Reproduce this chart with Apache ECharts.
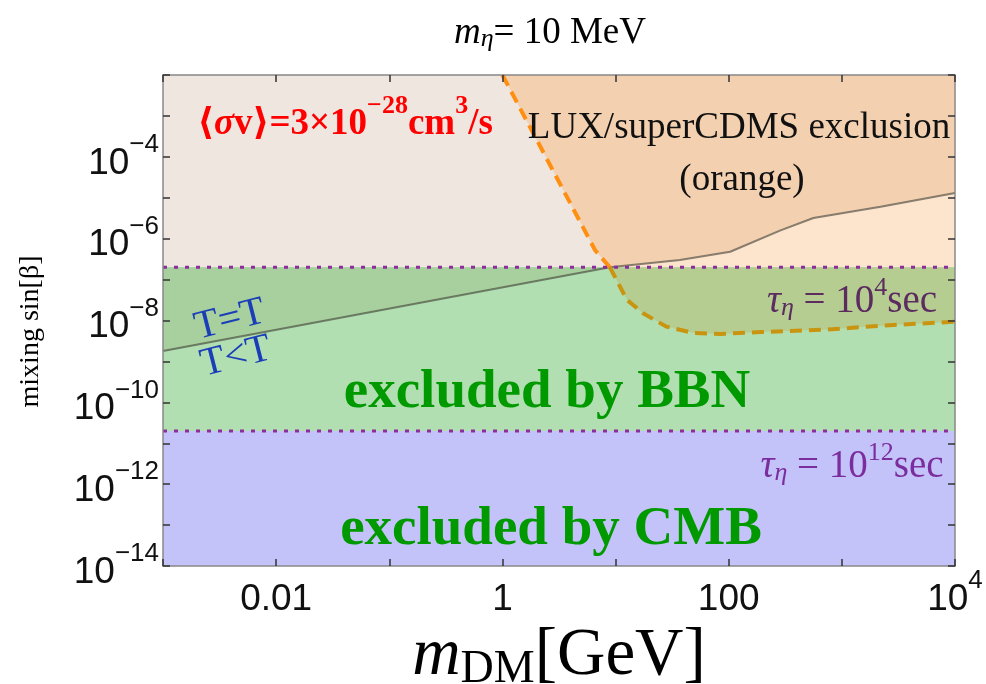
<!DOCTYPE html>
<html>
<head>
<meta charset="utf-8">
<script src="https://cdn.jsdelivr.net/npm/echarts@6/dist/echarts.min.js"></script>
<style>
html, body { margin: 0; padding: 0; background: #fff; }
#main { width: 986px; height: 684px; }
</style>
</head>
<body>
<div id="main"></div>
<script>
// axis limits (log axes)
var xRange = [1e-3, 1e4];
var yRange = [1e-14, 1e-2];

// lifetime limits of eta: tau = 1e4 sec (BBN) and tau = 1e12 sec (CMB)
var bbnLimit = 2e-7;
var cmbLimit = 2e-11;

// T = T boundary (grey line)
var thermalLow = [[1e-3, 1.8e-9], [8.9, 2e-7]];
var thermalHigh = [[8.9, 2e-7], [37, 3.0e-7], [103, 4.8e-7], [287, 1.6e-6], [560, 3.2e-6], [2200, 6.0e-6], [1e4, 1.3e-5]];

// LUX/superCDMS exclusion (dashed)
var luxUpper = [[1, 1e-2], [6.6, 5.2e-7], [8.9, 2e-7]];
var luxLower = [[8.9, 2e-7], [12.6, 3.2e-8], [17.5, 1.5e-8], [28, 7.1e-9], [48, 5.0e-9], [84, 4.7e-9], [190, 5.2e-9], [740, 6.0e-9], [2850, 7.8e-9], [1e4, 9.3e-9]];

// tick labels
var xTickExp = [-2, 0, 2, 4];
var xTickText = ['{b|0.01}', '{b|1}', '{b|100}', '{b|10}{s|4}'];
var yTickExp = [-4, -6, -8, -10, -12, -14];
var yTickText = ['{b|10}{s|−4}', '{b|10}{s|−6}', '{b|10}{s|−8}', '{b|10}{s|−10}', '{b|10}{s|−12}', '{b|10}{s|−14}'];

var xMin = xRange[0], xMax = xRange[1], yMin = yRange[0], yMax = yRange[1];

var regionColors = {
	beige: '#EFE6E0',
	orange: '#F3D1B0',
	peach: '#FDE4CD',
	green: '#B2DFB2',
	darkGreen: '#A8D09E',
	olive: '#B5CD90',
	blue: '#C3C3FA'
};

// filled areas, built from the curves above
var regions = [
	{ pts: [[xMin, bbnLimit], [xMax, bbnLimit], [xMax, yMax], [xMin, yMax]], color: regionColors.beige },
	{ pts: [[luxUpper[0][0], yMax], [xMax, yMax]].concat(thermalHigh.slice().reverse(), luxUpper.slice(1, -1).reverse()), color: regionColors.orange },
	{ pts: thermalHigh.concat([[xMax, bbnLimit]]), color: regionColors.peach },
	{ pts: [[xMin, cmbLimit], [xMax, cmbLimit], [xMax, bbnLimit], [xMin, bbnLimit]], color: regionColors.green },
	{ pts: thermalLow.concat([[xMin, bbnLimit]]), color: regionColors.darkGreen },
	{ pts: luxLower.concat([[xMax, bbnLimit]]), color: regionColors.olive },
	{ pts: [[xMin, yMin], [xMax, yMin], [xMax, cmbLimit], [xMin, cmbLimit]], color: regionColors.blue }
];

var SERIF = '"Liberation Serif", "DejaVu Serif", serif';
var SANS = '"Liberation Sans", Arial, sans-serif';

function tickLabel(exps, texts) {
	return function (v) {
		var e = Math.round(Math.log10(v));
		var i = exps.indexOf(e);
		return i < 0 ? '' : texts[i];
	};
}

var tickRich = {
	b: { fontSize: 37, fontFamily: SANS, color: '#111', lineHeight: 50, verticalAlign: 'bottom' },
	s: { fontSize: 26, fontFamily: SANS, color: '#111', verticalAlign: 'top' }
};

function xAx(pos) {
	return {
		type: 'log', logBase: 10, min: xMin, max: xMax, interval: 1, position: pos, z: 10,
		axisLine: { show: true, lineStyle: { color: '#888', width: 1.5 } },
		axisTick: { show: true, inside: true, length: 7, lineStyle: { color: '#333', width: 1.5 } },
		minorTick: { show: false },
		splitLine: { show: false },
		axisLabel: pos === 'bottom'
			? { formatter: tickLabel(xTickExp, xTickText), rich: tickRich, margin: 2, showMinLabel: true, showMaxLabel: true, hideOverlap: false }
			: { show: false }
	};
}

function yAx(pos) {
	return {
		type: 'log', logBase: 10, min: yMin, max: yMax, interval: 1, position: pos, z: 10,
		axisLine: { show: true, lineStyle: { color: '#888', width: 1.5 } },
		axisTick: { show: true, inside: true, length: 7, lineStyle: { color: '#333', width: 1.5 } },
		minorTick: { show: false },
		splitLine: { show: false },
		axisLabel: pos === 'left'
			? { formatter: tickLabel(yTickExp, yTickText), rich: tickRich, margin: 4, showMinLabel: true, hideOverlap: false }
			: { show: false }
	};
}

var xAxes = [xAx('bottom'), xAx('top')];
xAxes[0].name = '{m|m}{sub|DM}{r|[GeV]}';
xAxes[0].nameLocation = 'middle';
xAxes[0].nameGap = 46;
xAxes[0].nameTextStyle = {
	rich: {
		m: { fontSize: 67, fontStyle: 'italic', fontFamily: SERIF, color: '#000', lineHeight: 70, verticalAlign: 'top' },
		sub: { fontSize: 46, fontFamily: SERIF, color: '#000', verticalAlign: 'bottom' },
		r: { fontSize: 67, fontFamily: SERIF, color: '#000', lineHeight: 70, verticalAlign: 'top' }
	}
};
var yAxes = [yAx('left'), yAx('right')];
yAxes[0].name = 'mixing sin[β]';
yAxes[0].nameLocation = 'middle';
yAxes[0].nameGap = 118;
yAxes[0].nameRotate = 90;
yAxes[0].nameTextStyle = { fontSize: 28, fontFamily: SERIF, color: '#000', padding: [0, 22, 0, 0] };

function lineSeries(data, color, width, dash, z) {
	return {
		type: 'line', data: data, symbol: 'none', silent: true, z: z,
		lineStyle: { color: color, width: width, type: dash },
		animation: false
	};
}

function label(x, y, text, rich, extra) {
	var st = { text: text, x: x, y: y, align: 'center', verticalAlign: 'middle', rich: rich };
	for (var k in extra) st[k] = extra[k];
	return { type: 'text', z: 100, style: st };
}

function supRich(size, supSize, color, weight, lh) {
	return {
		b: { fontSize: size, fontFamily: SERIF, fill: color, fontWeight: weight, lineHeight: lh, verticalAlign: 'bottom' },
		i: { fontSize: size, fontFamily: SERIF, fill: color, fontWeight: weight, fontStyle: 'italic', lineHeight: lh, verticalAlign: 'bottom' },
		s: { fontSize: supSize, fontFamily: SERIF, fill: color, fontWeight: weight, verticalAlign: 'top' },
		sub: { fontSize: supSize, fontFamily: SERIF, fill: color, fontStyle: 'italic', verticalAlign: 'bottom' }
	};
}

var chart = echarts.init(document.getElementById('main'));
chart.setOption({
	animation: false,
	backgroundColor: '#fff',
	grid: { left: 163, right: 31, top: 75, bottom: 118, containLabel: false, outerBoundsMode: 'none' },
	xAxis: xAxes,
	yAxis: yAxes,
	series: [
		{
			type: 'custom', coordinateSystem: 'cartesian2d', clip: true, silent: true, z: 1,
			data: regions.map(function (r) { return r.pts[0]; }),
			renderItem: function (params, api) {
				var r = regions[params.dataIndex];
				return {
					type: 'polygon',
					shape: { points: r.pts.map(function (p) { return api.coord(p); }) },
					style: { fill: r.color }
				};
			}
		},
		lineSeries(thermalLow.concat(thermalHigh.slice(1)), 'rgba(60,60,50,0.6)', 2, 'solid', 3),
		lineSeries(luxUpper, '#FF8F10', 4, [12, 7], 4),
		lineSeries(luxLower, '#C99510', 4, [12, 7], 4),
		lineSeries([[xMin, bbnLimit], [xMax, bbnLimit]], '#8B2E9B', 3, [4, 7], 5),
		lineSeries([[xMin, cmbLimit], [xMax, cmbLimit]], '#8B2E9B', 3, [4, 7], 5)
	],
	graphic: [
		label(550, 32, '{i|m}{sub|η}{b|= 10 MeV}', supRich(37, 26, '#000', 'normal', 40)),
		label(345, 118, '{b|⟨}{i|σ}{b|v⟩=3×10}{s|−28}{b|cm}{s|3}{b|/s}', supRich(37, 26, '#FF0000', 'bold', 50)),
		label(739, 128, 'LUX/superCDMS exclusion', null, { font: '37px ' + SERIF, fill: '#111' }),
		label(742, 180, '(orange)', null, { font: '37px ' + SERIF, fill: '#111' }),
		label(852, 298, '{i|τ}{sub|η}{b| = 10}{s|4}{b|sec}', supRich(39, 26, '#5C2C60', 'normal', 46)),
		label(852, 463, '{i|τ}{sub|η}{b| = 10}{s|12}{b|sec}', supRich(39, 26, '#7B2D9E', 'normal', 46)),
		label(547, 393, 'excluded by BBN', null, { font: 'bold 55px ' + SERIF, fill: '#009A00' }),
		label(551, 530, 'excluded by CMB', null, { font: 'bold 55px ' + SERIF, fill: '#009A00' }),
		{ type: 'text', z: 100, x: 230, y: 320, rotation: 0.25, style: { text: 'T=T', x: 0, y: 0, align: 'center', verticalAlign: 'middle', font: '40px ' + SERIF, fill: '#1A3DB8' } },
		{ type: 'text', z: 100, x: 236, y: 357, rotation: 0.25, style: { text: 'T<T', x: 0, y: 0, align: 'center', verticalAlign: 'middle', font: '40px ' + SERIF, fill: '#1A3DB8' } }
	]
});
</script>
</body>
</html>
